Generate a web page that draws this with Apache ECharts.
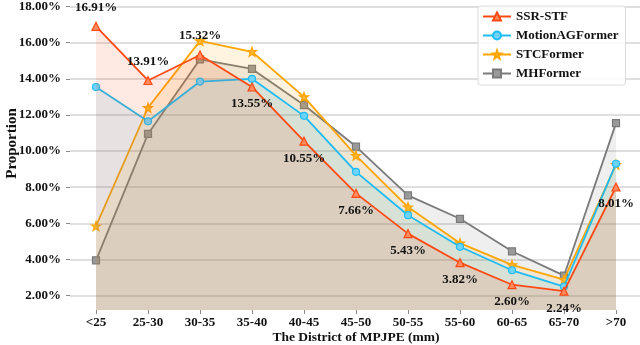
<!DOCTYPE html>
<html>
<head>
<meta charset="utf-8">
<script src="https://cdn.jsdelivr.net/npm/echarts@6/dist/echarts.min.js"></script>
<style>
  html, body { margin: 0; padding: 0; background: #fff; }
  #chart { width: 640px; height: 345px; }
</style>
</head>
<body>
<div id="chart"></div>
<script>
// categories (MPJPE bins)
var districts = ['<25', '25-30', '30-35', '35-40', '40-45', '45-50', '50-55', '55-60', '60-65', '65-70', '>70'];

// proportion (%) per method
var ssrStf = [16.91, 13.91, 15.32, 13.55, 10.55, 7.66, 5.43, 3.82, 2.60, 2.24, 8.01];
var motionAG = [13.55, 11.65, 13.85, 14.0, 11.95, 8.85, 6.45, 4.7, 3.4, 2.5, 9.3];
var stcFormer = [5.85, 12.4, 16.1, 15.5, 13.0, 9.75, 6.9, 4.9, 3.7, 2.88, 9.25];
var mhFormer = [3.95, 10.95, 15.08, 14.55, 12.55, 10.25, 7.55, 6.25, 4.45, 3.1, 11.55];

var yTicks = [2, 4, 6, 8, 10, 12, 14, 16, 18];

var serif = '"Liberation Serif", "Times New Roman", serif';

// SSR-STF labels: the first three sit above the point, the rest below
function ssrData() {
  return ssrStf.map(function (v, i) {
    return {
      value: v,
      label: { position: i < 3 ? 'top' : 'bottom', distance: i < 3 ? 8 : 6 }
    };
  });
}

function mkSeries(name, data, color, fill, symbol, size, z) {
  return {
    name: name,
    type: 'line',
    data: data,
    symbol: symbol,
    symbolSize: size,
    z: z,
    lineStyle: { color: color, width: 1.8 },
    itemStyle: { color: fill, borderColor: color, borderWidth: 1.2 },
    areaStyle: { color: color, opacity: 0.12, origin: 'start' }
  };
}

var chart = echarts.init(document.getElementById('chart'));

var starPath = 'path://M0,-10 L2.4,-3.2 L9.5,-3.1 L3.8,1.2 L5.9,8.1 L0,4 L-5.9,8.1 L-3.8,1.2 L-9.5,-3.1 L-2.4,-3.2 Z';

var series = [
  mkSeries('MHFormer', mhFormer, '#7a7a7a', '#9a9a9a', 'rect', 7, 2),
  mkSeries('STCFormer', stcFormer, '#ffa500', '#ffb733', starPath, 9, 3),
  mkSeries('MotionAGFormer', motionAG, '#1ebcf5', '#6fd4fa', 'circle', 7, 4),
  mkSeries('SSR-STF', ssrData(), '#ff4a12', '#ff8a5e', 'triangle', 8, 5)
];
series[3].label = {
  show: true,
  color: '#111',
  fontFamily: serif,
  fontWeight: 'bold',
  fontSize: 13,
  formatter: function (p) { return p.value.toFixed(2) + '%'; }
};

var option = {
  animation: false,
  backgroundColor: '#fff',
  // plot area runs a little above the picture, as in the cropped figure
  grid: { left: 70, top: -23, width: 572, height: 333, outerBoundsMode: 'none', containLabel: false },
  legend: {
    data: ['SSR-STF', 'MotionAGFormer', 'STCFormer', 'MHFormer'],
    orient: 'vertical',
    left: 478,
    top: 6,
    itemWidth: 28,
    itemHeight: 10,
    itemGap: 6,
    padding: [4, 7, 5, 4],
    backgroundColor: 'rgba(255,255,255,0.85)',
    borderColor: '#dcdcdc',
    borderWidth: 1,
    borderRadius: 3,
    textStyle: { fontFamily: serif, fontWeight: 'bold', fontSize: 13, color: '#111' }
  },
  xAxis: {
    type: 'category',
    data: districts,
    boundaryGap: true,
    name: 'The District of MPJPE (mm)',
    nameLocation: 'middle',
    nameGap: 21,
    nameMoveOverlap: false,
    nameTextStyle: { fontFamily: serif, fontWeight: 'bold', fontSize: 13.5, color: '#111' },
    axisLine: { show: false },
    axisTick: { show: true, alignWithLabel: true, length: 4, lineStyle: { color: '#888' } },
    axisLabel: { fontFamily: serif, fontWeight: 'bold', fontSize: 13, color: '#111', margin: 6, interval: 0 },
    splitLine: { show: false }
  },
  yAxis: {
    type: 'value',
    min: 1.2,
    max: 19.64,
    name: 'Proportion',
    nameLocation: 'middle',
    nameGap: 50,
    nameMoveOverlap: false,
    nameTextStyle: { fontFamily: serif, fontWeight: 'bold', fontSize: 15, color: '#111' },
    axisLine: { show: false },
    axisTick: { show: true, customValues: yTicks, length: 4, lineStyle: { color: '#888' } },
    axisLabel: {
      customValues: yTicks,
      fontFamily: serif, fontWeight: 'bold', fontSize: 13, color: '#111', margin: 9,
      formatter: function (v) { return v.toFixed(2) + '%'; }
    },
    splitLine: { show: true, lineStyle: { color: '#d4d4d4', width: 1.5 } }
  },
  series: series
};

chart.setOption(option);
</script>
</body>
</html>
